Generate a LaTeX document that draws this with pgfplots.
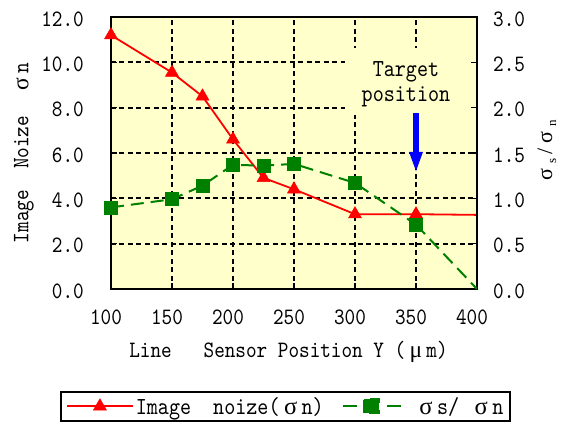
\documentclass[border=0pt]{standalone}
\usepackage{fontspec}
\setmainfont{Liberation Serif}
\newfontfamily\mono{lmmono10-regular}[Extension=.otf,FakeStretch=0.86]
\newfontfamily\gr{Liberation Serif}
\usepackage{pgfplots}
\pgfplotsset{compat=1.18}
\usetikzlibrary{arrows.meta}
\definecolor{bgy}{RGB}{255,255,204}
\definecolor{dgreen}{RGB}{0,128,0}
\newcommand\fs[1]{\fontsize{#1}{#1}\selectfont}
\newcommand\wsig{\makebox[0.9em]{\gr σ}}
\begin{document}
\begin{tikzpicture}
\begin{axis}[
 at={(0,0)}, anchor=south west,
 scale only axis, width=366pt, height=272pt,
 xmin=100, xmax=400, ymin=0, ymax=12,
 xtick={100,150,200,250,300,350,400}, ytick={0,2,4,6,8,10,12},
 xticklabels={100,150,200,250,300,350,400},
 yticklabels={0.0,2.0,4.0,6.0,8.0,10.0,12.0},
 xtick pos=left, ytick pos=left,
 tick align=inside, major tick length=6pt,
 tick style={black, line width=1.5pt},
 axis line style={black, line width=2.5pt},
 axis background/.style={fill=bgy},
 grid=major,
 major grid style={black, line width=2.1pt, dash pattern=on 5pt off 3.5pt},
 tick label style={font=\mono\fs{23.5}, inner sep=0pt},
 xticklabel style={anchor=north, yshift=-21pt, xshift=-5pt},
 yticklabel style={anchor=east, xshift=-27pt, yshift=-2pt},
 label style={font=\mono\fs{23.5}, inner sep=0pt},
 xlabel={Line\ \ \ Sensor Position Y\ (\makebox[0.9em]{\gr μ}m)},
 ylabel={Image\ \ Noize\ \ \wsig n},
 xlabel style={at={(axis description cs:0.485,-0.25)}, anchor=base},
 ylabel style={at={(axis description cs:-0.226,0.5)}, anchor=base},
]
\addplot[red, line width=1.8pt, mark=triangle*, mark size=7.5pt,
  mark options={solid, fill=red, draw=red, line width=0.5pt}]
  coordinates {(100,11.2)(150,9.55)(175,8.5)(200,6.6)(225,4.9)(250,4.4)(300,3.3)(350,3.3)};
\addplot[red, line width=1.8pt, forget plot] coordinates {(350,3.3)(400,3.27)};
\fill[bgy] (axis cs:292,7.68) rectangle (axis cs:399.3,10.63);
\node[font=\mono\fs{24.5}, anchor=base, inner sep=0pt] at (axis cs:341.8,9.365) {Target};
\node[font=\mono\fs{24.5}, anchor=base, inner sep=0pt] at (axis cs:341.8,8.262) {position};
\draw[blue, line width=6.5pt, -{Triangle[length=21pt,width=12pt]}] (axis cs:350,7.76) -- (axis cs:350,5.12);
\end{axis}
\begin{axis}[
 at={(0,0)}, anchor=south west,
 scale only axis, width=366pt, height=272pt,
 xmin=100, xmax=400, ymin=0, ymax=3,
 axis x line=none, axis y line*=right,
 ytick={0,0.5,1,1.5,2,2.5,3},
 yticklabels={0.0,0.5,1.0,1.5,2.0,2.5,3.0},
 tick align=inside, major tick length=6pt,
 tick style={black, line width=1.5pt},
 axis line style={black, line width=2.5pt},
 tick label style={font=\mono\fs{23.5}, inner sep=0pt},
 yticklabel style={anchor=west, xshift=16pt, yshift=-2pt},
 ylabel={\gr\fs{22}\makebox[1em]{σ}\raisebox{-4pt}{\fs{13}s}\,/\makebox[1em]{σ}\raisebox{-4pt}{\fs{13}n}},
 ylabel style={at={(axis description cs:1.205,0.5)}, anchor=base, inner sep=0pt},
 legend style={at={(axis description cs:-0.1393,-0.375)}, anchor=north west,
   draw=black, line width=2pt, fill=white, legend columns=2,
   font=\mono\fs{24.5}, inner xsep=5pt, inner ysep=3pt,
   /tikz/every even column/.append style={column sep=16pt}},
 legend image code/.code={\draw[mark repeat=2,mark phase=2,#1] plot coordinates {(0pt,0pt) (33pt,0pt) (66pt,0pt)};},
]
\addlegendimage{red, line width=1.8pt, mark=triangle*, mark size=7.5pt,
  mark options={solid, fill=red, draw=red, line width=0.5pt}}
\addlegendentry{Image\ \ noize(\wsig n)}
\addplot[dgreen, line width=2pt, dash pattern=on 13pt off 7pt, mark=square*, mark size=6.5pt,
  mark options={solid, fill=dgreen, draw=dgreen, line width=0.5pt},
  legend image code/.code={
    \draw[dgreen, solid, line width=2.2pt] (4pt,0pt) -- (18pt,0pt);
    \draw[dgreen, solid, line width=2.2pt] (48pt,0pt) -- (62pt,0pt);
    \fill[dgreen] (25.5pt,-7pt) rectangle (40.5pt,7pt);}]
  coordinates {(100,0.90)(150,0.99)(175,1.14)(200,1.37)(225,1.36)(250,1.38)(300,1.17)(350,0.71)};
\addlegendentry{\ \wsig s/\ \wsig n}
\addplot[dgreen, line width=2pt, dash pattern=on 13pt off 7pt, forget plot] coordinates {(350,0.71)(400,0.0)};
\end{axis}
\pgfresetboundingbox
\useasboundingbox (-111pt,-134pt) rectangle (453pt,289pt);
\end{tikzpicture}
\end{document}
